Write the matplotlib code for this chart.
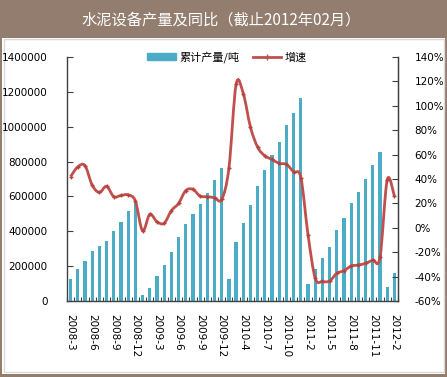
import matplotlib.pyplot as plt
import matplotlib.patches as mpatches
from matplotlib.path import Path
from matplotlib.lines import Line2D
from matplotlib.ticker import FuncFormatter, FixedLocator
import numpy as np

plt.rcParams['font.family'] = ['Noto Sans CJK SC', 'DejaVu Sans']

# ==========================================
# DATA
# ==========================================

months = (
    [f"2008-{m}" for m in range(3, 13)] +
    [f"2009-{m}" for m in range(1, 13)] +
    [f"2010-{m}" for m in range(2, 13)] +
    [f"2011-{m}" for m in range(2, 13)] +
    ["2012-1", "2012-2"]
)

# 累计产量/吨
output_t = [
    126000, 182000, 230000, 285000, 314000, 346000, 403000, 453000, 516000, 575000,
    36000, 76000, 143000, 205000, 281000, 370000, 442000, 499000, 557000, 620000,
    692000, 763000,
    126000, 337000, 448000, 551000, 658000, 752000, 838000, 915000, 1007000, 1081000,
    1165000,
    96000, 184000, 247000, 310000, 409000, 478000, 562000, 625000, 698000, 782000,
    855000,
    79000, 162000,
]

# 增速 (%)
growth_pct = [
    42, 50, 51, 35, 29, 34, 25.5, 26.5, 27, 22,
    -2.4, 11, 5, 3.7, 14, 20, 30.5, 31.5, 26, 25.5,
    24.7, 23.3,
    48.8, 117.5, 110, 82.4, 66, 59, 56, 52.8, 52, 45.8,
    41.2,
    -5.9, -41.4, -44, -43.6, -37.3, -35.1, -31.3, -30.5, -29.1, -26.4,
    -24.2,
    39.2, 26,
]

label_every = 3

BAR_COLOR = '#4BACC6'
LINE_COLOR = '#C0504D'
BROWN = '#937D6E'
AXIS_COLOR = '#404040'


# ==========================================
# FIGURE
# ==========================================

fig = plt.figure(figsize=(4.47, 3.77), dpi=100, facecolor=BROWN)

W, H = 447, 377

fig.patches.append(
    mpatches.Rectangle(
        (2 / W, 3 / H), 443 / W, (H - 38 - 3) / H,
        transform=fig.transFigure, facecolor='white',
        edgecolor='none', zorder=-2
    )
)
fig.patches.append(
    mpatches.Rectangle(
        (3.5 / W, 5 / H), 440 / W, (H - 38 - 6) / H,
        transform=fig.transFigure, facecolor='none',
        edgecolor='#D9D9D9', linewidth=1, zorder=-1
    )
)

fig.text(
    221 / W, 1 - 20 / H,
    "水泥设备产量及同比（截止2012年02月）",
    color='white', fontsize=11, ha='center', va='center'
)

ax = fig.add_axes([67 / W, 1 - 301 / H, 331 / W, 244 / H])
ax.set_facecolor('none')

x = np.arange(len(months))

ax.bar(x, output_t, width=0.45, color=BAR_COLOR, zorder=2)

ax.set_xlim(-0.5, len(months) - 0.5)
ax.set_ylim(0, 1400000)
ax.set_yticks(np.arange(0, 1400001, 200000))
ax.yaxis.set_major_formatter(FuncFormatter(lambda v, p: f"{v:.0f}"))

ax.set_xticks(x[::label_every])
ax.set_xticklabels(months[::label_every], rotation=-90, fontsize=7.5,
                   family=['DejaVu Sans'])
ax.xaxis.set_minor_locator(FixedLocator(np.arange(-0.5, len(months), 1)))
ax.tick_params(axis='x', which='major', length=0, pad=9)
ax.tick_params(axis='x', which='minor', length=3, direction='in',
               color=AXIS_COLOR, width=0.8)
ax.tick_params(axis='y', direction='in', length=4, color=AXIS_COLOR,
               labelsize=7.5, pad=14)
for lbl in ax.get_yticklabels():
    lbl.set_family(['DejaVu Sans'])

for side in ['top']:
    ax.spines[side].set_visible(False)
for side in ['left', 'bottom', 'right']:
    ax.spines[side].set_color(AXIS_COLOR)
    ax.spines[side].set_linewidth(1)


# ==========================================
# GROWTH LINE (smoothed like Excel)
# ==========================================

ax2 = ax.twinx()
ax2.set_ylim(-60, 140)
ax2.set_yticks(np.arange(-60, 141, 20))
ax2.yaxis.set_major_formatter(FuncFormatter(lambda v, p: f"{v:.0f}%"))
ax2.tick_params(axis='y', direction='in', length=4, color=AXIS_COLOR,
                labelsize=7.5, pad=12)
for lbl in ax2.get_yticklabels():
    lbl.set_family(['DejaVu Sans'])
ax2.spines['top'].set_visible(False)
ax2.spines['right'].set_color(AXIS_COLOR)
ax2.spines['left'].set_visible(False)
ax2.spines['bottom'].set_visible(False)

pts = np.column_stack([x, growth_pct]).astype(float)
verts = [pts[0]]
codes = [Path.MOVETO]
n = len(pts)
for i in range(n - 1):
    p0 = pts[i - 1] if i > 0 else pts[i]
    p1 = pts[i]
    p2 = pts[i + 1]
    p3 = pts[i + 2] if i + 2 < n else pts[i + 1]
    c1 = p1 + (p2 - p0) / 6
    c2 = p2 - (p3 - p1) / 6
    verts += [c1, c2, p2]
    codes += [Path.CURVE4] * 3

ax2.add_patch(
    mpatches.PathPatch(
        Path(verts, codes), facecolor='none',
        edgecolor=LINE_COLOR, linewidth=2, zorder=3
    )
)
ax2.plot(x, growth_pct, linestyle='none', marker='+', markersize=3.5,
         markeredgewidth=1, color='#B8403C', zorder=4)


# ==========================================
# LEGEND
# ==========================================

handles = [
    mpatches.Patch(color=BAR_COLOR, label='累计产量/吨'),
    Line2D([], [], color=LINE_COLOR, linewidth=2, marker='+',
           markersize=4, markeredgewidth=1, label='增速'),
]
fig.legend(
    handles=handles, loc='center', bbox_to_anchor=(227 / W, 1 - 57 / H),
    ncol=2, frameon=False, fontsize=8, handlelength=2.6,
    handleheight=0.5, columnspacing=1.2, handletextpad=0.3
)

fig.savefig('out.png', dpi=100, facecolor=BROWN)
